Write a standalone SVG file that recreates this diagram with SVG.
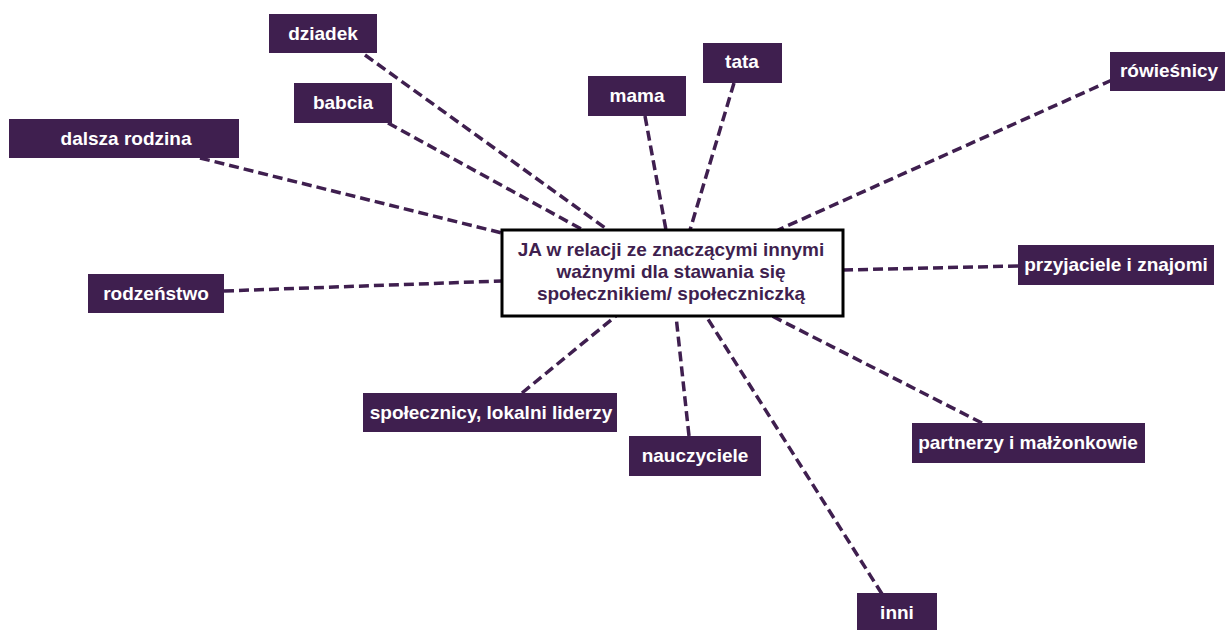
<svg xmlns="http://www.w3.org/2000/svg" width="1225" height="630" viewBox="0 0 1225 630">
<style>
.n rect{fill:#3f1f4f}
.n text{fill:#fff;font-family:"Liberation Sans",Arial,sans-serif;font-weight:bold;font-size:19px;text-anchor:middle}
.c line{stroke:#3f1f4f;stroke-width:3.5;stroke-dasharray:10 5;fill:none}
.ct{fill:#3f1f4f;font-family:"Liberation Sans",Arial,sans-serif;font-weight:bold;font-size:19px;text-anchor:middle}
</style>
<rect width="1225" height="630" fill="#fff"/>
<g id="connectors" class="c">
<line x1="365" y1="55" x2="608" y2="230"/>
<line x1="388" y1="123" x2="583" y2="230"/>
<line x1="200" y1="158" x2="502" y2="233"/>
<line x1="645" y1="116" x2="666" y2="230"/>
<line x1="734" y1="83" x2="690" y2="230"/>
<line x1="1112" y1="80" x2="778" y2="230"/>
<line x1="1018" y1="266" x2="843" y2="270"/>
<line x1="224" y1="291" x2="502" y2="281"/>
<line x1="522" y1="393" x2="616" y2="316"/>
<line x1="689" y1="436" x2="676" y2="316"/>
<line x1="982" y1="423" x2="772" y2="316"/>
<line x1="882" y1="594" x2="706" y2="316"/>
</g>
<g id="center">
<rect x="502" y="230" width="341" height="86" fill="#fff" stroke="#000" stroke-width="3"/>
<text class="ct" x="671" y="256">JA w relacji ze znaczącymi innymi</text>
<text class="ct" x="671" y="278">ważnymi dla stawania się</text>
<text class="ct" x="671" y="300">społecznikiem/ społeczniczką</text>
</g>
<g id="dziadek" class="n"><rect x="269" y="14" width="108" height="39"/><text x="323" y="40">dziadek</text></g>
<g id="babcia" class="n"><rect x="294" y="83" width="98" height="40"/><text x="343" y="109">babcia</text></g>
<g id="dalsza-rodzina" class="n"><rect x="9" y="119" width="230" height="39"/><text x="126" y="145">dalsza rodzina</text></g>
<g id="mama" class="n"><rect x="588" y="76" width="98" height="40"/><text x="637" y="102">mama</text></g>
<g id="tata" class="n"><rect x="703" y="43" width="79" height="40"/><text x="742" y="68">tata</text></g>
<g id="rowiesnicy" class="n"><rect x="1110" y="52" width="115" height="39"/><text x="1169" y="77">rówieśnicy</text></g>
<g id="przyjaciele" class="n"><rect x="1018" y="245" width="196" height="40"/><text x="1116" y="271">przyjaciele i znajomi</text></g>
<g id="rodzenstwo" class="n"><rect x="88" y="274" width="136" height="39"/><text x="156" y="300">rodzeństwo</text></g>
<g id="spolecznicy" class="n"><rect x="363" y="393" width="254" height="39"/><text x="491" y="419">społecznicy, lokalni liderzy</text></g>
<g id="nauczyciele" class="n"><rect x="629" y="436" width="132" height="40"/><text x="695" y="462">nauczyciele</text></g>
<g id="partnerzy" class="n"><rect x="912" y="423" width="233" height="40"/><text x="1028" y="449">partnerzy i małżonkowie</text></g>
<g id="inni" class="n"><rect x="857" y="593" width="80" height="37"/><text x="897" y="619">inni</text></g>
</svg>
